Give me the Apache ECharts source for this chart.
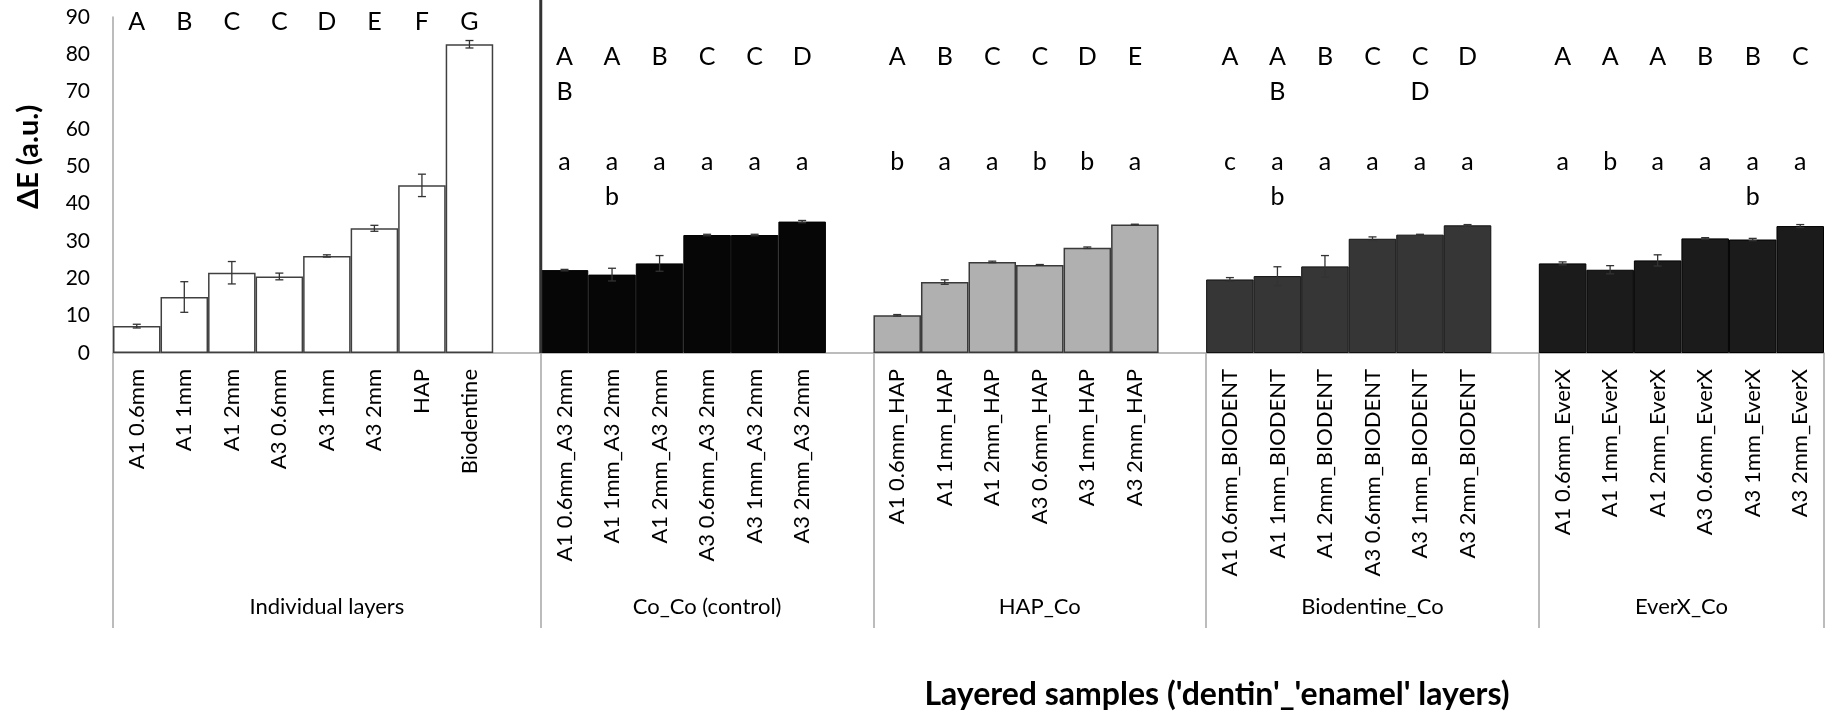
<!DOCTYPE html>
<html>
<head>
<meta charset="utf-8">
<script src="https://cdn.jsdelivr.net/npm/echarts@6/dist/echarts.min.js"></script>
<style>
  html, body { margin: 0; padding: 0; background: #fff; }
  #chart { width: 1833px; height: 724px; }
</style>
</head>
<body>
<div id="chart"></div>
<script>
// group titles (second level of the category axis)
const groupLabels = ['Individual layers', 'Co_Co (control)', 'HAP_Co', 'Biodentine_Co', 'EverX_Co']

// individual layers
const indivNames = ['A1 0.6mm', 'A1 1mm', 'A1 2mm', 'A3 0.6mm', 'A3 1mm', 'A3 2mm', 'HAP', 'Biodentine']
const indivValues = [7.2, 15.0, 21.5, 20.5, 26.0, 33.4, 44.9, 82.7]
const indivErr = [0.5, 4.1, 3.0, 0.9, 0.3, 0.8, 3.0, 1.0]
const indivUpper = ['A', 'B', 'C', 'C', 'D', 'E', 'F', 'G']

// Co_Co (control)
const cocoNames = ['A1 0.6mm_A3 2mm', 'A1 1mm_A3 2mm', 'A1 2mm_A3 2mm', 'A3 0.6mm_A3 2mm', 'A3 1mm_A3 2mm', 'A3 2mm_A3 2mm']
const cocoValues = [22.2, 21.0, 24.0, 31.6, 31.6, 35.2]
const cocoErr = [0.2, 1.7, 2.1, 0.2, 0.2, 0.3]
const cocoUpper = ['AB', 'A', 'B', 'C', 'C', 'D']
const cocoLower = ['a', 'ab', 'a', 'a', 'a', 'a']

// HAP_Co
const hapNames = ['A1 0.6mm_HAP', 'A1 1mm_HAP', 'A1 2mm_HAP', 'A3 0.6mm_HAP', 'A3 1mm_HAP', 'A3 2mm_HAP']
const hapValues = [10.1, 19.0, 24.4, 23.6, 28.2, 34.4]
const hapErr = [0.2, 0.6, 0.2, 0.1, 0.2, 0.1]
const hapUpper = ['A', 'B', 'C', 'C', 'D', 'E']
const hapLower = ['b', 'a', 'a', 'b', 'b', 'a']

// Biodentine_Co
const bioNames = ['A1 0.6mm_BIODENT', 'A1 1mm_BIODENT', 'A1 2mm_BIODENT', 'A3 0.6mm_BIODENT', 'A3 1mm_BIODENT', 'A3 2mm_BIODENT']
const bioValues = [19.7, 20.6, 23.2, 30.6, 31.7, 34.2]
const bioErr = [0.5, 2.5, 2.9, 0.5, 0.1, 0.2]
const bioUpper = ['A', 'AB', 'B', 'C', 'CD', 'D']
const bioLower = ['c', 'ab', 'a', 'a', 'a', 'a']

// EverX_Co
const everxNames = ['A1 0.6mm_EverX', 'A1 1mm_EverX', 'A1 2mm_EverX', 'A3 0.6mm_EverX', 'A3 1mm_EverX', 'A3 2mm_EverX']
const everxValues = [24.0, 22.3, 24.8, 30.7, 30.4, 34.0]
const everxErr = [0.4, 1.1, 1.5, 0.2, 0.3, 0.4]
const everxUpper = ['A', 'A', 'A', 'B', 'B', 'C']
const everxLower = ['a', 'b', 'a', 'a', 'ab', 'a']

const yTicks = [0, 10, 20, 30, 40, 50, 60, 70, 80, 90]

// 样式 / 文字行的位置
const FONT = 'Lato'
const INDIV_ROW = 88.8
const UPPER_ROWS = [79.2, 69.8]
const LOWER_ROWS = [51.1, 41.7]

const groups = [
  { names: indivNames, values: indivValues, err: indivErr, upper: indivUpper, lower: null, color: '#ffffff', border: '#404040', bw: 1.5 },
  { names: cocoNames, values: cocoValues, err: cocoErr, upper: cocoUpper, lower: cocoLower, color: '#060606', border: '#000000', bw: 1 },
  { names: hapNames, values: hapValues, err: hapErr, upper: hapUpper, lower: hapLower, color: '#b0b0b0', border: '#3a3a3a', bw: 1.5 },
  { names: bioNames, values: bioValues, err: bioErr, upper: bioUpper, lower: bioLower, color: '#363636', border: '#111111', bw: 1 },
  { names: everxNames, values: everxValues, err: everxErr, upper: everxUpper, lower: everxLower, color: '#1b1b1b', border: '#000000', bw: 1 }
]

const categories = []
const barData = []
const errData = []
const letterData = []
const groupStarts = []
const groupCenters = []

groups.forEach((g, gi) => {
  const start = categories.length
  groupStarts.push(start)
  g.names.forEach((name, i) => {
    const idx = categories.length
    categories.push(name)
    barData.push({
      value: g.values[i],
      itemStyle: { color: g.color, borderColor: g.border, borderWidth: g.bw }
    })
    errData.push([idx, g.values[i], g.err[i]])
    if (!g.lower) {
      letterData.push([idx, INDIV_ROW, g.upper[i]])
    } else {
      g.upper[i].split('').forEach((ch, r) => letterData.push([idx, UPPER_ROWS[r], ch]))
      g.lower[i].split('').forEach((ch, r) => letterData.push([idx, LOWER_ROWS[r], ch]))
    }
  })
  // 组之间留一个空位
  if (gi < groups.length - 1) {
    categories.push('')
    barData.push('-')
  }
  groupCenters.push((start + categories.length) / 2)
})

const myChart = echarts.init(document.getElementById('chart'))
myChart.setOption({
  animation: false,
  textStyle: { fontFamily: FONT, color: '#000' },
  grid: { left: 113, right: 9, top: 17, bottom: 371, outerBoundsMode: 'none' },
  xAxis: [
    {
      type: 'category',
      data: categories,
      axisLine: { lineStyle: { color: '#a6a6a6', width: 1.5 } },
      axisTick: {
        show: true,
        interval: (index) => groupStarts.includes(index),
        length: 275,
        lineStyle: { color: '#a6a6a6', width: 1.5 }
      },
      axisLabel: { interval: 0, rotate: 90, margin: 16, fontSize: 22, color: '#000', fontFamily: FONT }
    },
    {
      type: 'value',
      min: 0,
      max: categories.length,
      position: 'bottom',
      axisLine: { show: false },
      axisTick: { show: false },
      splitLine: { show: false },
      axisLabel: {
        customValues: groupCenters,
        margin: 243,
        fontSize: 22,
        color: '#000',
        fontFamily: FONT,
        formatter: (v) => groupLabels[groupCenters.indexOf(v)] || ''
      }
    }
  ],
  yAxis: {
    type: 'value',
    min: 0,
    max: 90,
    interval: 10,
    axisLine: { show: true, lineStyle: { color: '#a6a6a6', width: 1.5 } },
    axisTick: { show: false },
    splitLine: { show: false },
    axisLabel: {
      margin: 23,
      fontSize: 21,
      color: '#000',
      fontFamily: FONT,
      customValues: yTicks
    }
  },
  graphic: [
    {
      type: 'text',
      x: 29,
      y: 157,
      rotation: Math.PI / 2,
      style: {
        text: 'ΔE (a.u.)',
        font: 'bold 29px ' + FONT,
        fill: '#000',
        align: 'center',
        verticalAlign: 'middle',
        textAlign: 'center',
        textVerticalAlign: 'middle'
      }
    },
    {
      type: 'text',
      x: 1217,
      y: 695,
      style: {
        text: "Layered samples ('dentin'_'enamel' layers)",
        font: 'bold 32px ' + FONT,
        fill: '#000',
        align: 'center',
        verticalAlign: 'middle',
        textAlign: 'center',
        textVerticalAlign: 'middle'
      }
    }
  ],
  series: [
    {
      type: 'bar',
      data: barData,
      barWidth: '100%',
      barCategoryGap: 0,
      z: 2
    },
    {
      // 误差线
      type: 'custom',
      data: errData,
      z: 3,
      renderItem: (params, api) => {
        const x = api.value(0)
        const v = api.value(1)
        const e = api.value(2)
        const hi = api.coord([x, v + e])
        const lo = api.coord([x, v - e])
        const w = 4
        const style = { stroke: '#333', lineWidth: 1.3 }
        return {
          type: 'group',
          children: [
            { type: 'line', shape: { x1: hi[0], y1: hi[1], x2: lo[0], y2: lo[1] }, style },
            { type: 'line', shape: { x1: hi[0] - w, y1: hi[1], x2: hi[0] + w, y2: hi[1] }, style },
            { type: 'line', shape: { x1: lo[0] - w, y1: lo[1], x2: lo[0] + w, y2: lo[1] }, style }
          ]
        }
      }
    },
    {
      // 个体层与双层样品之间的分隔线
      type: 'custom',
      data: [[groupStarts[1], 0]],
      z: 4,
      renderItem: (params, api) => {
        const bw = api.size([1, 0])[0]
        const p = api.coord([api.value(0), 0])
        const x = p[0] - bw / 2
        return {
          type: 'line',
          shape: { x1: x, y1: 0, x2: x, y2: p[1] },
          style: { stroke: '#333333', lineWidth: 3 }
        }
      }
    },
    {
      // 显著性字母
      type: 'custom',
      data: letterData.map(d => [d[0], d[1]]),
      z: 5,
      renderItem: (params, api) => {
        const p = api.coord([api.value(0), api.value(1)])
        return {
          type: 'text',
          x: p[0],
          y: p[1],
          style: {
            text: letterData[params.dataIndex][2],
            font: '25px ' + FONT,
            fill: '#000',
            align: 'center',
            verticalAlign: 'middle'
          }
        }
      }
    }
  ]
})
</script>
</body>
</html>
